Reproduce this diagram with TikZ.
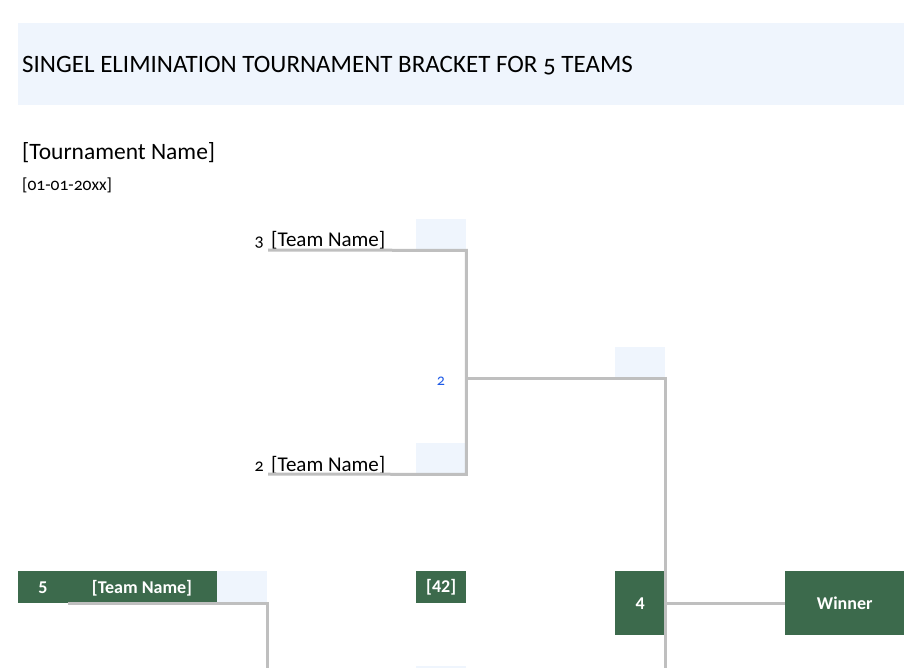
\documentclass[tikz,border=0pt]{standalone}
\usepackage{fontspec}
\setmainfont{Carlito}[Numbers=OldStyle]
\newfontfamily\boxfont{Carlito}[Numbers=Lining]
\usetikzlibrary{positioning}

\definecolor{bandblue}{RGB}{239,245,253}
\definecolor{teamgreen}{RGB}{60,106,76}
\definecolor{linegray}{RGB}{191,191,191}
\definecolor{seedblue}{RGB}{30,90,230}

\begin{document}
\begin{tikzpicture}[x=1pt, y=-1pt,
	slot/.style={fill=bandblue, minimum width=50pt, minimum height=31pt, inner sep=0pt, anchor=north west},
	greenbox/.style={fill=teamgreen, text=white, font=\boxfont\bfseries\fontsize{18}{20}\selectfont, inner sep=0pt, anchor=north west},
	bracket/.style={draw=linegray, line width=3pt},
	team/.style={font=\fontsize{21}{24}\selectfont, anchor=base west, inner sep=0pt},
	seed/.style={font=\fontsize{18}{20}\selectfont, anchor=base east, inner sep=0pt}]
\useasboundingbox (0,0) rectangle (904,668);

% draw title band
	\node[fill=bandblue, minimum width=886pt, minimum height=82pt, inner sep=0pt, anchor=north west] (band) at (18,23) {};
	\node[anchor=west, inner sep=0pt, font=\fontsize{25}{28}\selectfont] (title) at (22,66) {SINGEL ELIMINATION TOURNAMENT BRACKET FOR 5 TEAMS};
	\node[anchor=west, inner sep=0pt, font=\fontsize{23.5}{26}\selectfont] (tname) at (22,153) {[Tournament Name]};
	\node[anchor=west, inner sep=0pt, font=\fontsize{17.5}{20}\selectfont] (tdate) at (22,185) {[01-01-20xx]};

% draw round 1 slots
	\node[slot] (s1) at (416,219) {};
	\node[slot] (s2) at (416,443) {};
	\node[slot] (s3) at (615,347) {};
	\node[slot] (s5) at (217,571) {};
	\node[slot, minimum height=2pt] (s6) at (416,666) {};

% draw teams
	\node[team] (n3) at (271,247) {[Team Name]};
	\node[seed] (k3) at (264,247) {3};
	\node[team] (n2) at (271,471) {[Team Name]};
	\node[seed] (k2) at (264,471) {2};
	\node[font=\fontsize{16}{18}\selectfont, text=seedblue, inner sep=0pt] (g2) at (441,381) {2};

% draw green boxes
	\node[greenbox, minimum width=199pt, minimum height=32pt] (b5) at (18,571) {};
	\node[text=white, font=\boxfont\bfseries\fontsize{18}{20}\selectfont, inner sep=0pt] (k5) at (43,588) {5};
	\node[text=white, font=\boxfont\bfseries\fontsize{18}{20}\selectfont, inner sep=0pt] (n5) at (142,588) {[Team Name]};
	\node[greenbox, minimum width=50pt, minimum height=32pt] (g42) at (416,571) {[42]};
	\node[greenbox, minimum width=50pt, minimum height=64pt] (g4) at (615,571) {4};
	\node[greenbox, minimum width=119pt, minimum height=64pt] (win) at (785,571) {Winner};

% draw bracket lines
	\coordinate (a3) at (268,250);
	\coordinate (a2) at (268,474);
	\coordinate (a5) at (68,603);
	\coordinate (bot) at (0,668);
	\draw[bracket] (a3) -- (s1.south east) -- (s2.south east) -- (a2);
	\draw[bracket] (s1.south east |- s3.south east) -- (s3.south east) -- (s3.south east |- bot);
	\draw[bracket] (s3.south east |- win.west) -- (win.west);
	\draw[bracket] (a5) -- (s5.south east |- a5) -- (s5.south east |- bot);
\end{tikzpicture}
\end{document}
